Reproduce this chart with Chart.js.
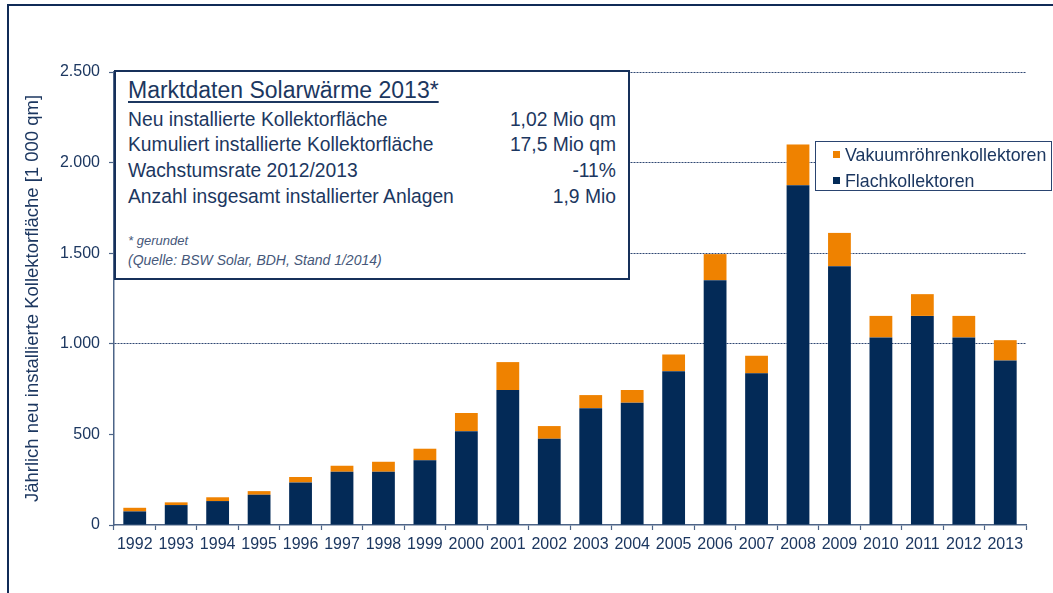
<!DOCTYPE html>
<html>
<head>
<meta charset="utf-8">
<script src="https://cdn.jsdelivr.net/npm/chart.js@4/dist/chart.umd.min.js"></script>
<style>
  html, body { margin:0; padding:0; background:#fff; }
  #wrap { position:relative; width:1053px; height:593px; overflow:hidden; font-family:"Liberation Sans", Arial, sans-serif; color:#1c3760; }
  #c { position:absolute; left:0; top:0; }
  .abs { position:absolute; white-space:nowrap; }
  #frame { position:absolute; left:7px; top:4px; width:1200px; height:700px; border-left:2px solid #102b57; border-top:2px solid #102b57; }
  #info { position:absolute; left:114px; top:70px; width:512px; height:206px; border:2px solid #16305a; background:#fff; }
  #legend { position:absolute; left:815px; top:141px; width:235px; height:48px; border:1.5px solid #2a4470; background:#fff; }
  .mk { position:absolute; width:7px; height:7px; }
</style>
</head>
<body>
<div id="wrap">
  <div id="frame"></div>
  <canvas id="c" width="1053" height="593"></canvas>
  <div id="info"></div>
  <div class="abs" style="left:128px; top:76px; font-size:23px; line-height:29px; text-decoration:underline; text-underline-offset:3px;">Marktdaten Solarwärme 2013*</div>
  <div class="abs" style="left:128px; top:109px; font-size:19.3px; line-height:22px;">Neu installierte Kollektorfläche</div>
  <div class="abs" style="left:128px; top:134px; font-size:19.3px; line-height:22px;">Kumuliert installierte Kollektorfläche</div>
  <div class="abs" style="left:128px; top:160px; font-size:19.3px; line-height:22px;">Wachstumsrate 2012/2013</div>
  <div class="abs" style="left:128px; top:186px; font-size:19.3px; line-height:22px;">Anzahl insgesamt installierter Anlagen</div>
  <div class="abs" style="left:400px; width:216px; text-align:right; top:109px; font-size:19.3px; line-height:22px;">1,02 Mio qm</div>
  <div class="abs" style="left:400px; width:216px; text-align:right; top:134px; font-size:19.3px; line-height:22px;">17,5 Mio qm</div>
  <div class="abs" style="left:400px; width:216px; text-align:right; top:160px; font-size:19.3px; line-height:22px;">-11%</div>
  <div class="abs" style="left:400px; width:216px; text-align:right; top:186px; font-size:19.3px; line-height:22px;">1,9 Mio</div>
  <div class="abs" style="left:128px; top:233px; font-size:13px; line-height:16px; font-style:italic; color:#46587a;">* gerundet</div>
  <div class="abs" style="left:128px; top:252px; font-size:14px; line-height:16px; font-style:italic; color:#46587a;">(Quelle: BSW Solar, BDH, Stand 1/2014)</div>
  <div id="legend"></div>
  <div class="mk" id="mk0" style="left:833px; top:151px;"></div>
  <div class="abs" id="lg0" style="left:845px; top:144px; font-size:17.8px; line-height:22px;"></div>
  <div class="mk" id="mk1" style="left:833px; top:177px;"></div>
  <div class="abs" id="lg1" style="left:845px; top:170px; font-size:17.8px; line-height:22px;"></div>
</div>
<script>
const years = ['1992','1993','1994','1995','1996','1997','1998','1999','2000','2001','2002','2003','2004','2005','2006','2007','2008','2009','2010','2011','2012','2013'];
const flachkollektoren = [75,110,132,167,235,294,294,357,518,745,476,645,675,849,1351,837,1875,1428,1035,1154,1035,908];
const vakuumroehren =    [20,15,21,20,30,33,55,64,100,154,70,72,70,92,144,97,225,184,119,120,119,112];
const yTickLabels = ['0','500','1.000','1.500','2.000','2.500'];
const seriesNames = ['Flachkollektoren','Vakuumröhrenkollektoren'];
const yTitle = 'Jährlich neu installierte Kollektorfläche [1 000 qm]';

const NAVY = '#032a57';
const ORANGE = '#ef8200';
const TXT = '#1c3760';
const AXIS = '#4d6487';

document.getElementById('mk0').style.background = ORANGE;
document.getElementById('lg0').textContent = seriesNames[1];
document.getElementById('mk1').style.background = NAVY;
document.getElementById('lg1').textContent = seriesNames[0];

new Chart(document.getElementById('c'), {
  type: 'bar',
  data: {
    labels: years,
    datasets: [
      { label: seriesNames[0], data: flachkollektoren, backgroundColor: NAVY, stack: 's' },
      { label: seriesNames[1], data: vakuumroehren, backgroundColor: ORANGE, stack: 's' }
    ]
  },
  options: {
    responsive: false,
    devicePixelRatio: 1,
    animation: false,
    layout: { padding: { left: 0, top: 72, right: 27, bottom: 0 } },
    datasets: { bar: { categoryPercentage: 0.55, barPercentage: 1.0 } },
    plugins: { legend: { display: false }, tooltip: { enabled: false } },
    scales: {
      x: {
        stacked: true,
        offset: true,
        afterFit: s => { s.height = 68; },
        grid: { offset: true, drawOnChartArea: false, drawTicks: true, tickLength: 5, tickColor: AXIS, tickWidth: 1.2 },
        border: { display: true, color: AXIS, width: 1.5 },
        ticks: { color: TXT, font: { family: 'Liberation Sans', size: 16 }, padding: 5, maxRotation: 0, autoSkip: false }
      },
      y: {
        stacked: true,
        min: 0, max: 2500,
        afterFit: s => { s.width = 114; },
        ticks: {
          stepSize: 500,
          color: TXT,
          padding: 9,
          font: { family: 'Liberation Sans', size: 16 },
          callback: (v, i) => yTickLabels[i]
        },
        grid: {
          color: ctx => (ctx.tick && ctx.tick.value >= 1000) ? '#2f4772' : 'rgba(0,0,0,0)',
          lineWidth: 1,
          drawTicks: true, tickLength: 5, tickColor: AXIS, tickWidth: 1.2, tickBorderDash: []
        },
        border: { display: true, color: AXIS, width: 1.5, dash: [2, 1] },
        title: {
          display: true, text: yTitle, color: TXT,
          font: { family: 'Liberation Sans', size: 18.5 },
          padding: { top: 22, bottom: 0 }
        }
      }
    }
  }
});
</script>
</body>
</html>
